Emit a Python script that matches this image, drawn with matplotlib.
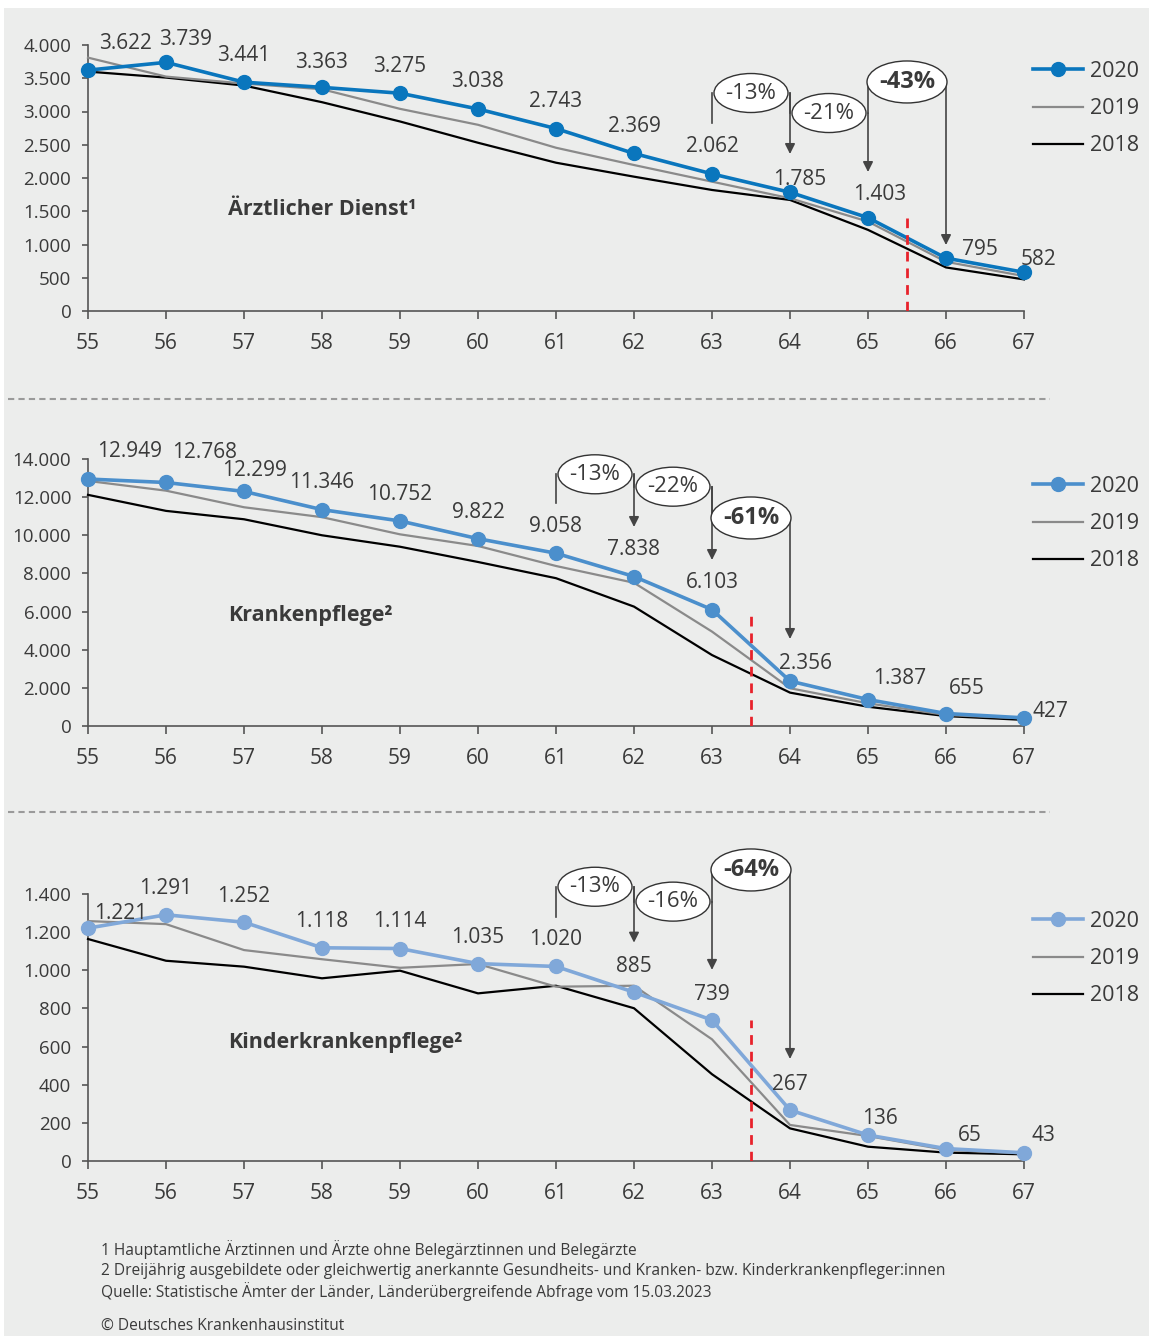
import matplotlib
matplotlib.use("Agg")
import matplotlib.pyplot as plt
from matplotlib.patches import Ellipse, Rectangle
from matplotlib.lines import Line2D
from matplotlib.ticker import FuncFormatter

plt.rcParams['font.family'] = ['Open Sans', 'DejaVu Sans']

# ===============================
# DATEN
# ===============================
ages = list(range(55, 68))

aerzte_2020 = [3622, 3739, 3441, 3363, 3275, 3038, 2743, 2369, 2062, 1785, 1403, 795, 582]
aerzte_2019 = [3810, 3525, 3420, 3335, 3040, 2800, 2455, 2195, 1945, 1695, 1345, 740, 525]
aerzte_2018 = [3600, 3510, 3390, 3140, 2850, 2530, 2230, 2020, 1820, 1670, 1220, 655, 475]

pflege_2020 = [12949, 12768, 12299, 11346, 10752, 9822, 9058, 7838, 6103, 2356, 1387, 655, 427]
pflege_2019 = [12850, 12340, 11470, 10950, 10050, 9440, 8390, 7510, 4950, 1980, 1190, 580, 400]
pflege_2018 = [12120, 11280, 10840, 10000, 9400, 8600, 7750, 6260, 3720, 1750, 1010, 520, 320]

kinder_2020 = [1221, 1291, 1252, 1118, 1114, 1035, 1020, 885, 739, 267, 136, 65, 43]
kinder_2019 = [1258, 1242, 1106, 1058, 1013, 1033, 914, 919, 638, 189, 131, 58, 40]
kinder_2018 = [1164, 1050, 1019, 958, 998, 879, 919, 801, 455, 171, 75, 44, 35]

titles = ["Ärztlicher Dienst¹", "Krankenpflege²", "Kinderkrankenpflege²"]
year_labels = ["2020", "2019", "2018"]

# Veränderung (Alter links, Text, fett)
aerzte_changes = [(63, "-13%", False), (64, "-21%", False), (65, "-43%", True)]
pflege_changes = [(61, "-13%", False), (62, "-22%", False), (63, "-61%", True)]
kinder_changes = [(61, "-13%", False), (62, "-16%", False), (63, "-64%", True)]

# Rentenbeginn-Markierung
aerzte_cut = (65.5, 1400)
pflege_cut = (63.5, 6100)
kinder_cut = (63.5, 740)

footnotes = [
    "1 Hauptamtliche Ärztinnen und Ärzte ohne Belegärztinnen und Belegärzte",
    "2 Dreijährig ausgebildete oder gleichwertig anerkannte Gesundheits- und Kranken- bzw. Kinderkrankenpfleger:innen",
    "Quelle: Statistische Ämter der Länder, Länderübergreifende Abfrage vom 15.03.2023",
]
copyright_text = "© Deutsches Krankenhausinstitut"

# ===============================
# LAYOUT / STIL
# ===============================
W, H = 1149, 1336
BG = "#ecedec"
TXT = "#3a3a3a"
GREY = "#8a8a8a"


def fx(px):
    return px / W


def fy(py):
    return 1 - py / H


panels = [
    dict(d2020=aerzte_2020, d2019=aerzte_2019, d2018=aerzte_2018, title=titles[0],
         color="#0a76bd", top=45, bottom=311, ymax=4000, ystep=500,
         changes=aerzte_changes, cut=aerzte_cut,
         ann_y=[3278, 2977, 3444], ann_tip=[2361, 2090, 992], first_left=2827,
         offs=[(37, -30), (20, -26), (0, -30), (0, -28), (0, -30), (0, -30), (0, -30),
               (0, -30), (0, -30), (10, -16), (12, -26), (34, -12), (14, -16)],
         title_y=0.38, legend_y=69),
    dict(d2020=pflege_2020, d2019=pflege_2019, d2018=pflege_2018, title=titles[1],
         color="#4b8fcc", top=459, bottom=726, ymax=14000, ystep=2000,
         changes=pflege_changes, cut=pflege_cut,
         ann_y=[13198, 12548, 10907], ann_tip=[10435, 8704, 4562], first_left=11693,
         offs=[(42, -31), (39, -33), (11, -24), (0, -30), (0, -29), (0, -29), (0, -30),
               (0, -30), (0, -30), (16, -21), (32, -24), (21, -28), (26, -9)],
         title_y=0.412, legend_y=484),
    dict(d2020=kinder_2020, d2019=kinder_2019, d2018=kinder_2018, title=titles[2],
         color="#80a8d9", top=894, bottom=1161, ymax=1400, ystep=200,
         changes=kinder_changes, cut=kinder_cut,
         ann_y=[1438, 1360, 1526], ann_tip=[1145, 1002, 535], first_left=1279,
         offs=[(33, -18), (0, -29), (0, -29), (0, -29), (0, -30), (0, -29), (0, -30),
               (0, -29), (0, -29), (0, -29), (12, -20), (24, -16), (19, -20)],
         title_y=0.442, legend_y=919),
]

fmt = FuncFormatter(lambda v, p: f"{int(v):,}".replace(",", "."))

fig = plt.figure(figsize=(W / 100, H / 100), dpi=100, facecolor="white")
fig.patches.append(Rectangle((fx(4), 0), 1 - fx(4), fy(8), transform=fig.transFigure,
                             facecolor=BG, edgecolor="none", zorder=-10))

x0, x1 = 88, 1024
for p in panels:
    ax = fig.add_axes([fx(x0), fy(p["bottom"]), (x1 - x0) / W, (p["bottom"] - p["top"]) / H])
    ax.set_facecolor("none")
    ax.set_xlim(55, 67)
    ax.set_ylim(0, p["ymax"])

    l18, = ax.plot(ages, p["d2018"], color="black", lw=1.6, clip_on=False, zorder=3)
    l19, = ax.plot(ages, p["d2019"], color=GREY, lw=1.6, clip_on=False, zorder=3)
    l20, = ax.plot(ages, p["d2020"], color=p["color"], lw=2.6, marker="o", ms=10,
                   clip_on=False, zorder=4)

    # Werte-Beschriftung
    for a, v, (dx, dy) in zip(ages, p["d2020"], p["offs"]):
        ax.annotate(f"{v:,}".replace(",", "."), (a, v), xytext=(dx, -dy - 3),
                    textcoords="offset pixels", ha="center", va="center",
                    fontsize=15, color=TXT, zorder=6)

    # Achsen
    for s in ["top", "right"]:
        ax.spines[s].set_visible(False)
    for s in ["left", "bottom"]:
        ax.spines[s].set_color("#555555")
        ax.spines[s].set_linewidth(1.2)
    ax.set_xticks(ages)
    ax.set_yticks(range(0, p["ymax"] + 1, p["ystep"]))
    ax.yaxis.set_major_formatter(fmt)
    ax.tick_params(axis="x", length=6, width=1.2, color="#555555", labelsize=15,
                   labelcolor=TXT, pad=10)
    ax.tick_params(axis="y", length=4, width=1.2, color="#555555", labelsize=13.5,
                   labelcolor=TXT, pad=8)

    ax.text(0.1496, p["title_y"], p["title"], transform=ax.transAxes, fontsize=15.5,
            fontweight="bold", color=TXT, va="center", ha="left")

    # rote Linie
    cx, cy = p["cut"]
    ax.plot([cx, cx], [0, cy], color="#e8222b", lw=2, ls=(0, (3.5, 2.5)), zorder=5)

    # Veränderungs-Ellipsen und Pfeile
    px_y = (p["bottom"] - p["top"]) / p["ymax"]
    px_x = (x1 - x0) / 12
    prev_y = p["first_left"]
    for (a, txt, bold), yc, tip in zip(p["changes"], p["ann_y"], p["ann_tip"]):
        ax.plot([a, a], [yc, prev_y], color="#444444", lw=1.2, clip_on=False, zorder=5)
        ax.annotate("", xy=(a + 1, tip), xytext=(a + 1, yc),
                    arrowprops=dict(arrowstyle="-|>", color="#444444", lw=1.2,
                                    mutation_scale=15, shrinkA=0, shrinkB=0),
                    zorder=5, annotation_clip=False)
        w, h = (80, 42) if bold else (74, 39)
        ax.add_patch(Ellipse((a + 0.5, yc), w / px_x, h / px_y, facecolor="white",
                             edgecolor="#333333", lw=1.0, clip_on=False, zorder=7))
        ax.text(a + 0.5, yc, txt, ha="center", va="center", zorder=8, color=TXT,
                fontsize=17 if bold else 16, fontweight="bold" if bold else "normal")
        prev_y = yc

    leg = ax.legend([l20, l19, l18], year_labels, loc="upper left",
                    bbox_to_anchor=(fx(1033), fy(p["legend_y"] - 8)),
                    bbox_transform=fig.transFigure, frameon=False, fontsize=15.5,
                    handlelength=2.3, handletextpad=0.35, labelspacing=0.75,
                    borderpad=0, borderaxespad=0)
    for t in leg.get_texts():
        t.set_color(TXT)

# gestrichelte Trennlinien
for yy in [399, 812]:
    fig.add_artist(Line2D([fx(8), fx(1050)], [fy(yy), fy(yy)], transform=fig.transFigure,
                          color="#9a9a9a", lw=1.5, ls=(0, (3, 2))))

# Fußnoten
for i, t in enumerate(footnotes):
    fig.text(fx(101), fy(1250 + i * 21), t, fontsize=11.2, color=TXT, va="center")
fig.text(fx(101), fy(1326), copyright_text, fontsize=11.2, color=TXT, va="center")

fig.savefig("out.png", dpi=100, facecolor=fig.get_facecolor())
